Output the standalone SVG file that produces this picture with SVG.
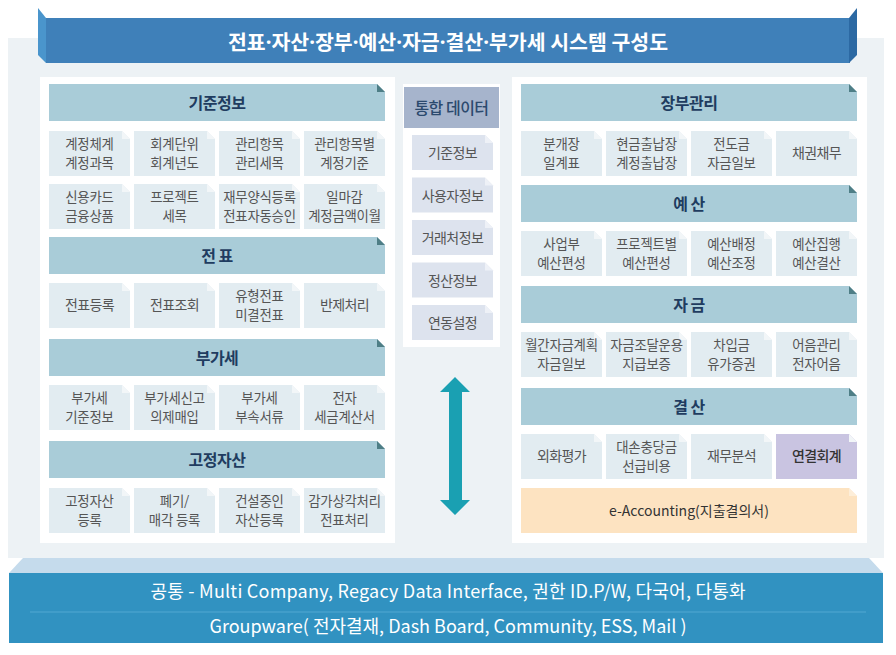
<svg xmlns="http://www.w3.org/2000/svg" xmlns:xlink="http://www.w3.org/1999/xlink" width="896" height="655" viewBox="0 0 896 655">
<style>
text{font-family:"Noto Sans CJK KR","Noto Sans",sans-serif;text-anchor:middle}
.dot{font-family:"Noto Sans",sans-serif}
.hd{fill:#a9ccd8}
.hdf{fill:#4e7e86}
.cl{fill:#e2ecf1}
.clf{fill:#f2f6f8}
.lav{fill:#c9c4e1}
.peach{fill:#fde3c1}
.ht{font-size:16px;font-weight:bold;fill:#1f3c60;letter-spacing:-0.5px}
.ct{font-size:13.4px;fill:#555;letter-spacing:-0.2px}
.cm{font-size:14px;fill:#555;letter-spacing:-0.6px}
.ctd{font-size:14px;fill:#333;font-weight:500;letter-spacing:-0.6px}
.mi{fill:#dde3ee}
.wt{fill:#ffffff}
.bt{font-size:18px;fill:#fff}
</style>
<defs>
<g id="hdr"><polygon points="0,0 328,0 336,8 336,37 0,37"/><polygon class="hdf" points="328,0 336,8 328,8"/></g>
<g id="cell"><polygon points="0,0 73,0 81,8 81,45 0,45"/><polygon class="clf" points="73,0 81,8 73,8"/></g>
<g id="mitem"><polygon points="0,0 73,0 81,8 81,35 0,35"/><polygon fill="#eef1f7" points="73,0 81,8 73,8"/></g>
</defs>

<rect x="8" y="38" width="876" height="520" fill="#edf2f5"/>

<g id="title">
<polygon points="38,8 46,18 46,63 38,55" fill="#4a95cc"/>
<rect x="46" y="18" width="804" height="45" fill="#3f80b9"/>
<polygon points="849,18 857,8 857,55 849,63" fill="#2c69a3"/>
<text x="448" y="49.5" font-size="20.5" font-weight="bold" fill="#fff">전표<tspan class="dot">·</tspan>자산<tspan class="dot">·</tspan>장부<tspan class="dot">·</tspan>예산<tspan class="dot">·</tspan>자금<tspan class="dot">·</tspan>결산<tspan class="dot">·</tspan>부가세 시스템 구성도</text>
</g>

<rect x="40" y="77" width="355" height="466" class="wt"/>
<rect x="512" y="77" width="355" height="466" class="wt"/>
<rect x="403" y="84" width="97" height="263" class="wt"/>

<!-- Left panel -->
<g id="h-gijun"><use xlink:href="#hdr" x="49" y="84" class="hd"/><text class="ht" x="217" y="109">기준정보</text></g>
<g id="l1"><use xlink:href="#cell" x="49" y="131" class="cl"/><text class="ct" x="89.5" y="148.5">계정체계<tspan x="89.5" dy="19">계정과목</tspan></text></g>
<g id="l2"><use xlink:href="#cell" x="134" y="131" class="cl"/><text class="ct" x="174.5" y="148.5">회계단위<tspan x="174.5" dy="19">회계년도</tspan></text></g>
<g id="l3"><use xlink:href="#cell" x="219" y="131" class="cl"/><text class="ct" x="259.5" y="148.5">관리항목<tspan x="259.5" dy="19">관리세목</tspan></text></g>
<g id="l4"><use xlink:href="#cell" x="304" y="131" class="cl"/><text class="ct" x="344.5" y="148.5">관리항목별<tspan x="344.5" dy="19">계정기준</tspan></text></g>
<g id="l5"><use xlink:href="#cell" x="49" y="184" class="cl"/><text class="ct" x="89.5" y="201.5">신용카드<tspan x="89.5" dy="19">금융상품</tspan></text></g>
<g id="l6"><use xlink:href="#cell" x="134" y="184" class="cl"/><text class="ct" x="174.5" y="201.5">프로젝트<tspan x="174.5" dy="19">세목</tspan></text></g>
<g id="l7"><use xlink:href="#cell" x="219" y="184" class="cl"/><text class="ct" x="259.5" y="201.5">재무양식등록<tspan x="259.5" dy="19">전표자동승인</tspan></text></g>
<g id="l8"><use xlink:href="#cell" x="304" y="184" class="cl"/><text class="ct" x="344.5" y="201.5">일마감<tspan x="344.5" dy="19">계정금액이월</tspan></text></g>

<g id="h-jeonpyo"><use xlink:href="#hdr" x="49" y="237" class="hd"/><text class="ht" x="217" y="262">전 표</text></g>
<g id="l9"><use xlink:href="#cell" x="49" y="283" class="cl"/><text class="cm" x="89.5" y="310">전표등록</text></g>
<g id="l10"><use xlink:href="#cell" x="134" y="283" class="cl"/><text class="cm" x="174.5" y="310">전표조회</text></g>
<g id="l11"><use xlink:href="#cell" x="219" y="283" class="cl"/><text class="ct" x="259.5" y="300.5">유형전표<tspan x="259.5" dy="19">미결전표</tspan></text></g>
<g id="l12"><use xlink:href="#cell" x="304" y="283" class="cl"/><text class="cm" x="344.5" y="310">반제처리</text></g>

<g id="h-vat"><use xlink:href="#hdr" x="49" y="339" class="hd"/><text class="ht" x="217" y="364">부가세</text></g>
<g id="l13"><use xlink:href="#cell" x="49" y="385" class="cl"/><text class="ct" x="89.5" y="402.5">부가세<tspan x="89.5" dy="19">기준정보</tspan></text></g>
<g id="l14"><use xlink:href="#cell" x="134" y="385" class="cl"/><text class="ct" x="174.5" y="402.5">부가세신고<tspan x="174.5" dy="19">의제매입</tspan></text></g>
<g id="l15"><use xlink:href="#cell" x="219" y="385" class="cl"/><text class="ct" x="259.5" y="402.5">부가세<tspan x="259.5" dy="19">부속서류</tspan></text></g>
<g id="l16"><use xlink:href="#cell" x="304" y="385" class="cl"/><text class="ct" x="344.5" y="402.5">전자<tspan x="344.5" dy="19">세금계산서</tspan></text></g>

<g id="h-asset"><use xlink:href="#hdr" x="49" y="441" class="hd"/><text class="ht" x="217" y="466">고정자산</text></g>
<g id="l17"><use xlink:href="#cell" x="49" y="488" class="cl"/><text class="ct" x="89.5" y="505.5">고정자산<tspan x="89.5" dy="19">등록</tspan></text></g>
<g id="l18"><use xlink:href="#cell" x="134" y="488" class="cl"/><text class="ct" x="174.5" y="505.5">폐기/<tspan x="174.5" dy="19">매각 등록</tspan></text></g>
<g id="l19"><use xlink:href="#cell" x="219" y="488" class="cl"/><text class="ct" x="259.5" y="505.5">건설중인<tspan x="259.5" dy="19">자산등록</tspan></text></g>
<g id="l20"><use xlink:href="#cell" x="304" y="488" class="cl"/><text class="ct" x="344.5" y="505.5">감가상각처리<tspan x="344.5" dy="19">전표처리</tspan></text></g>

<!-- Center -->
<g id="c-head"><rect x="404" y="87" width="95" height="41" fill="#a6b4cc"/><text x="451.5" y="114" font-size="16" font-weight="500" fill="#2c4a6e" letter-spacing="-0.5">통합 데이터</text></g>
<g id="c1"><use xlink:href="#mitem" x="412" y="135" class="mi"/><text class="cm" x="452.5" y="158">기준정보</text></g>
<g id="c2"><use xlink:href="#mitem" x="412" y="177.5" class="mi"/><text class="cm" x="452.5" y="200.5">사용자정보</text></g>
<g id="c3"><use xlink:href="#mitem" x="412" y="220" class="mi"/><text class="cm" x="452.5" y="243">거래처정보</text></g>
<g id="c4"><use xlink:href="#mitem" x="412" y="262.5" class="mi"/><text class="cm" x="452.5" y="285.5">정산정보</text></g>
<g id="c5"><use xlink:href="#mitem" x="412" y="305" class="mi"/><text class="cm" x="452.5" y="328">연동설정</text></g>

<!-- Right panel -->
<g id="h-ledger"><use xlink:href="#hdr" x="521" y="84" class="hd"/><text class="ht" x="689" y="109">장부관리</text></g>
<g id="r1"><use xlink:href="#cell" x="521" y="131" class="cl"/><text class="ct" x="561.5" y="148.5">분개장<tspan x="561.5" dy="19">일계표</tspan></text></g>
<g id="r2"><use xlink:href="#cell" x="606" y="131" class="cl"/><text class="ct" x="646.5" y="148.5">현금출납장<tspan x="646.5" dy="19">계정출납장</tspan></text></g>
<g id="r3"><use xlink:href="#cell" x="691" y="131" class="cl"/><text class="ct" x="731.5" y="148.5">전도금<tspan x="731.5" dy="19">자금일보</tspan></text></g>
<g id="r4"><use xlink:href="#cell" x="776" y="131" class="cl"/><text class="cm" x="816.5" y="158">채권채무</text></g>

<g id="h-budget"><use xlink:href="#hdr" x="521" y="185" class="hd"/><text class="ht" x="689" y="210">예 산</text></g>
<g id="r5"><use xlink:href="#cell" x="521" y="231" class="cl"/><text class="ct" x="561.5" y="248.5">사업부<tspan x="561.5" dy="19">예산편성</tspan></text></g>
<g id="r6"><use xlink:href="#cell" x="606" y="231" class="cl"/><text class="ct" x="646.5" y="248.5">프로젝트별<tspan x="646.5" dy="19">예산편성</tspan></text></g>
<g id="r7"><use xlink:href="#cell" x="691" y="231" class="cl"/><text class="ct" x="731.5" y="248.5">예산배정<tspan x="731.5" dy="19">예산조정</tspan></text></g>
<g id="r8"><use xlink:href="#cell" x="776" y="231" class="cl"/><text class="ct" x="816.5" y="248.5">예산집행<tspan x="816.5" dy="19">예산결산</tspan></text></g>

<g id="h-fund"><use xlink:href="#hdr" x="521" y="286" class="hd"/><text class="ht" x="689" y="311">자 금</text></g>
<g id="r9"><use xlink:href="#cell" x="521" y="332" class="cl"/><text class="ct" x="561.5" y="349.5">월간자금계획<tspan x="561.5" dy="19">자금일보</tspan></text></g>
<g id="r10"><use xlink:href="#cell" x="606" y="332" class="cl"/><text class="ct" x="646.5" y="349.5">자금조달운용<tspan x="646.5" dy="19">지급보증</tspan></text></g>
<g id="r11"><use xlink:href="#cell" x="691" y="332" class="cl"/><text class="ct" x="731.5" y="349.5">차입금<tspan x="731.5" dy="19">유가증권</tspan></text></g>
<g id="r12"><use xlink:href="#cell" x="776" y="332" class="cl"/><text class="ct" x="816.5" y="349.5">어음관리<tspan x="816.5" dy="19">전자어음</tspan></text></g>

<g id="h-close"><use xlink:href="#hdr" x="521" y="388" class="hd"/><text class="ht" x="689" y="413">결 산</text></g>
<g id="r13"><use xlink:href="#cell" x="521" y="434" class="cl"/><text class="cm" x="561.5" y="461">외화평가</text></g>
<g id="r14"><use xlink:href="#cell" x="606" y="434" class="cl"/><text class="ct" x="646.5" y="451.5">대손충당금<tspan x="646.5" dy="19">선급비용</tspan></text></g>
<g id="r15"><use xlink:href="#cell" x="691" y="434" class="cl"/><text class="cm" x="731.5" y="461">재무분석</text></g>
<g id="r16"><use xlink:href="#cell" x="776" y="434" class="lav"/><text class="ctd" x="816.5" y="461">연결회계</text></g>

<g id="eacc"><polygon class="peach" points="521,488 849,488 857,496 857,533 521,533"/><polygon fill="#fdeed9" points="849,488 857,496 849,496"/><text x="689" y="516" font-size="14" fill="#333">e-Accounting(지출결의서)</text></g>

<!-- Connectors -->
<g id="connectors">
<polygon fill="#1aa0b2" points="455,377 470,392 462,392 462,500 470,500 455,515 440,500 449,500 449,392 440,392"/>
</g>

<g id="common">
<polygon points="23,558 869,558 883,573 9,573" fill="#c5dbec"/>
<rect x="9" y="573" width="874" height="70" fill="#3192c1"/>
<line x1="30" y1="612" x2="866" y2="612" stroke="#52a8d2" stroke-width="1"/>
<text class="bt" x="448" y="598" textLength="595">공통 - Multi Company, Regacy Data Interface, 권한 ID.P/W, 다국어, 다통화</text>
<text class="bt" x="448" y="633" textLength="477">Groupware( 전자결재, Dash Board, Community, ESS, Mail )</text>
</g>
</svg>
